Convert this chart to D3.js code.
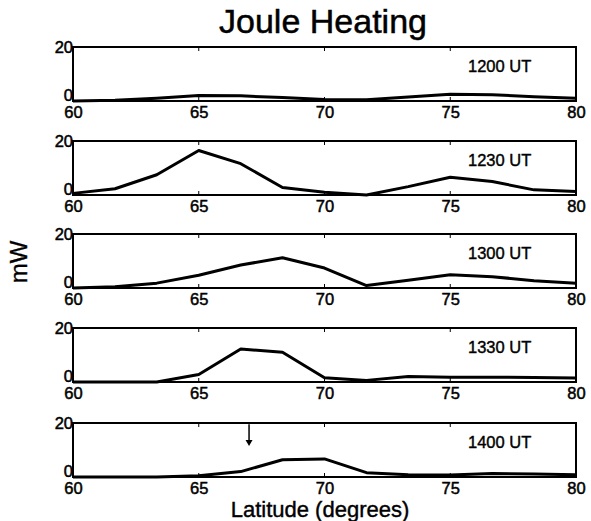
<!DOCTYPE html>
<html>
<head>
<meta charset="utf-8">
<script src="https://cdn.jsdelivr.net/npm/d3@7"></script>
<style>
  html, body { margin: 0; padding: 0; background: #fff; }
  svg { display: block; font-family: "Liberation Sans", Arial, sans-serif; }
</style>
</head>
<body>
<svg id="chart" width="591" height="521"></svg>
<script>
// ---- data ----
const latitudes = [60, 61.67, 63.33, 65, 66.67, 68.33, 70, 71.67, 73.33, 75, 76.67, 78.33, 80];
const panelLabels = ["1200 UT", "1230 UT", "1300 UT", "1330 UT", "1400 UT"];
const heat1200 = [0, 0.25, 1, 2, 1.9, 1.3, 0.6, 0.5, 1.5, 2.5, 2.3, 1.6, 1];
const heat1230 = [0.6, 2.3, 7.5, 16.5, 11.6, 2.8, 1, 0, 3.1, 6.6, 5, 1.9, 1.3];
const heat1300 = [0, 0.5, 1.8, 4.7, 8.5, 11.2, 7.4, 0.9, 2.9, 4.9, 4.2, 2.7, 1.8];
const heat1330 = [0, 0, 0, 2.8, 12.2, 11, 1.6, 0.6, 2, 1.8, 1.8, 1.7, 1.5];
const heat1400 = [0, 0, 0, 0.5, 2, 6.4, 6.7, 1.6, 0.8, 0.7, 1.3, 1.1, 0.8];
const series = [heat1200, heat1230, heat1300, heat1330, heat1400];
const xTicks = [60, 65, 70, 75, 80];
const yTicks = [0, 20];
const arrowLat = 67;      // arrow marker in 1400 UT panel
const arrowFrom = 19.5, arrowTo = 11.5;
const titleText = "Joule Heating";
const xLabel = "Latitude (degrees)";
const yLabel = "mW";

// ---- layout ----
const svg = d3.select("#chart");
const left = 73, right = 576;
const panelTops = [47, 141, 234, 328, 423];
const panelH = 54;
const FONT = "Liberation Sans, Arial, sans-serif";

const x = d3.scaleLinear().domain([60, 80]).range([left, right]);

svg.append("text")
  .attr("x", 323).attr("y", 33)
  .attr("text-anchor", "middle")
  .attr("font-size", 34)
  .attr("stroke", "#000").attr("stroke-width", 0.5)
  .text(titleText);

svg.append("text")
  .attr("transform", "translate(27,262) rotate(-90)")
  .attr("text-anchor", "middle")
  .attr("font-size", 24)
  .attr("stroke", "#000").attr("stroke-width", 0.4)
  .text(yLabel);

svg.append("text")
  .attr("x", 320).attr("y", 517)
  .attr("text-anchor", "middle")
  .attr("font-size", 22)
  .attr("stroke", "#000").attr("stroke-width", 0.4)
  .text(xLabel);

series.forEach((vals, i) => {
  const top = panelTops[i];
  const y = d3.scaleLinear().domain([0, 20]).range([top + panelH, top]);
  const g = svg.append("g");

  // frame
  g.append("rect")
    .attr("x", left).attr("y", top)
    .attr("width", right - left).attr("height", panelH)
    .attr("fill", "none").attr("stroke", "#000").attr("stroke-width", 2);

  // bottom axis labels
  const xa = d3.axisBottom(x).tickValues(xTicks).tickSize(0).tickPadding(0).tickFormat(d3.format("d"));
  const gx = g.append("g").attr("transform", `translate(0,${top + panelH})`).call(xa);
  gx.select(".domain").remove();
  gx.selectAll("text").attr("font-size", 16.5).attr("font-family", FONT)
    .attr("y", 16.5).attr("dy", null)
    .attr("stroke", "#000").attr("stroke-width", 0.5);

  // inner ticks top & bottom
  xTicks.slice(1, -1).forEach(t => {
    g.append("line").attr("x1", x(t)).attr("x2", x(t)).attr("y1", top).attr("y2", top + 4).attr("stroke", "#000").attr("stroke-width", 1);
    g.append("line").attr("x1", x(t)).attr("x2", x(t)).attr("y1", top + panelH).attr("y2", top + panelH - 4).attr("stroke", "#000").attr("stroke-width", 1);
  });

  // left axis labels
  const ya = d3.axisLeft(y).tickValues(yTicks).tickSize(0).tickPadding(0);
  const gy = g.append("g").attr("transform", `translate(${left},0)`).call(ya);
  gy.select(".domain").remove();
  gy.selectAll("text").attr("font-size", 16.5).attr("font-family", FONT)
    .attr("stroke", "#000").attr("stroke-width", 0.5)
    .attr("dy", d => d === 0 ? "-0.04em" : "0.32em");

  // line
  const line = d3.line().x((d, j) => x(latitudes[j])).y(d => y(d));
  g.append("path").datum(vals)
    .attr("d", line)
    .attr("fill", "none").attr("stroke", "#000").attr("stroke-width", 3)
    .attr("stroke-linejoin", "round");

  // label
  g.append("text")
    .attr("x", 468).attr("y", top + 25)
    .attr("font-size", 16.5)
    .attr("stroke", "#000").attr("stroke-width", 0.4)
    .text(panelLabels[i]);

  if (i === 4) {
    g.append("line")
      .attr("x1", x(arrowLat)).attr("x2", x(arrowLat))
      .attr("y1", y(arrowFrom)).attr("y2", y(arrowTo) - 4)
      .attr("stroke", "#000").attr("stroke-width", 1.5);
    g.append("path")
      .attr("d", `M${x(arrowLat) - 3.5},${y(arrowTo) - 6} L${x(arrowLat) + 3.5},${y(arrowTo) - 6} L${x(arrowLat)},${y(arrowTo)} Z`)
      .attr("fill", "#000");
  }
});
</script>
</body>
</html>
